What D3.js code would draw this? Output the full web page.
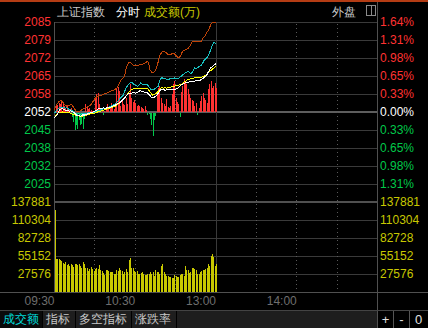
<!DOCTYPE html>
<html><head><meta charset="utf-8">
<script src="https://cdn.jsdelivr.net/npm/d3@7"></script>
<style>
html,body{margin:0;padding:0;background:#000;}
svg{display:block;}
text{font-family:"Liberation Sans",Arial,sans-serif;}
.cjk{font-family:"Noto Sans CJK SC","Liberation Sans",sans-serif;}
</style></head><body>
<svg id="chart" width="428" height="328"></svg>
<script>
// ---- minute data, 09:30 .. 11:30 (121 points) ----
const indexLine = [
2049.6,2050.2,2050.8,2051.9,2052.7,2052.9,2053.0,2052.8,2052.5,2052.3,
2052.4,2052.1,2052.2,2051.9,2051.8,2051.3,2050.8,2050.5,2050.6,2050.2,
2050.4,2050.8,2050.6,2050.9,2050.8,2051.2,2051.4,2051.5,2051.7,2051.9,
2052.1,2052.3,2052.8,2053.0,2053.2,2053.1,2053.3,2053.3,2053.1,2053.4,
2053.6,2053.5,2053.7,2054.0,2054.1,2054.3,2054.6,2054.9,2055.2,2055.5,
2056.0,2056.4,2057.0,2057.6,2058.1,2058.6,2058.9,2058.7,2058.9,2059.2,
2058.8,2058.9,2059.3,2059.6,2059.7,2059.4,2059.5,2059.1,2059.0,2058.9,
2058.4,2057.9,2057.3,2057.0,2057.3,2057.6,2058.0,2058.8,2059.5,2060.1,
2060.0,2060.2,2059.9,2060.0,2060.1,2060.3,2060.0,2060.2,2060.4,2060.1,
2060.3,2060.5,2060.8,2061.3,2061.8,2062.0,2062.3,2062.6,2062.8,2062.7,
2063.0,2063.1,2063.2,2063.0,2063.3,2063.5,2063.4,2063.7,2063.6,2063.8,
2064.2,2064.6,2065.0,2065.5,2066.4,2067.3,2068.2,2068.6,2069.0,2069.4,
2069.9];

const leadLine = [
2050.2,2050.7,2051.2,2051.5,2051.6,2051.7,2051.8,2051.7,2051.6,2051.7,
2051.7,2051.5,2051.3,2051.1,2050.9,2050.8,2050.6,2050.4,2050.3,2050.2,
2050.2,2050.3,2050.5,2050.6,2050.7,2050.8,2051.0,2051.1,2051.2,2051.3,
2051.4,2051.6,2051.8,2052.0,2052.1,2052.3,2052.4,2052.6,2052.7,2052.9,
2053.0,2053.2,2053.4,2053.6,2053.7,2053.9,2054.3,2054.7,2055.0,2055.4,
2055.8,2056.4,2057.0,2057.6,2058.3,2059.0,2059.6,2060.1,2060.3,2060.5,
2060.4,2060.5,2060.6,2060.7,2060.7,2060.6,2060.7,2060.6,2060.5,2060.5,
2060.0,2059.3,2058.6,2058.0,2058.3,2058.6,2058.9,2059.5,2060.1,2060.7,
2060.8,2060.7,2060.8,2060.7,2060.8,2060.9,2061.0,2061.2,2061.3,2061.4,
2061.5,2061.6,2061.8,2061.9,2062.0,2062.4,2062.8,2063.2,2063.5,2063.8,
2064.0,2064.2,2064.3,2064.4,2064.5,2064.5,2064.6,2064.6,2064.7,2064.7,
2065.0,2065.2,2065.4,2065.7,2066.2,2066.7,2067.2,2067.6,2068.0,2068.4,
2068.7];

const cyanLine = [
2051.4,2052.0,2052.7,2053.1,2053.4,2053.6,2053.5,2053.4,2053.2,2053.3,
2053.0,2052.8,2052.7,2052.3,2051.8,2051.4,2051.2,2051.0,2051.1,2050.9,
2051.1,2051.3,2051.2,2051.4,2051.3,2051.4,2051.6,2051.5,2051.7,2051.6,
2051.7,2051.9,2052.2,2052.4,2052.5,2052.7,2052.9,2053.1,2053.2,2053.4,
2053.6,2053.8,2054.0,2054.3,2054.5,2054.8,2055.3,2055.8,2056.4,2057.0,
2057.5,2058.0,2059.2,2060.7,2061.4,2062.0,2062.6,2063.0,2062.6,2062.1,
2061.8,2061.5,2061.4,2062.0,2062.6,2062.3,2062.0,2062.0,2062.1,2061.9,
2061.3,2060.6,2060.1,2060.1,2060.2,2060.6,2061.0,2061.4,2063.0,2064.4,
2064.5,2064.3,2064.2,2064.0,2063.8,2064.0,2064.2,2064.2,2064.3,2064.5,
2064.3,2064.2,2064.2,2064.6,2065.1,2065.5,2065.9,2066.3,2066.6,2066.9,
2066.6,2066.3,2066.3,2067.2,2068.2,2068.1,2068.2,2068.6,2068.9,2069.2,
2069.9,2070.9,2071.4,2071.9,2072.5,2073.5,2075.0,2076.2,2077.5,2077.5,
2077.4];

const orangeLine = [
2052.7,2053.9,2054.8,2055.5,2055.9,2056.0,2055.6,2054.8,2054.3,2054.0,
2054.2,2054.3,2054.5,2054.4,2053.7,2052.9,2052.2,2051.8,2051.9,2052.2,
2052.5,2052.9,2053.1,2053.3,2053.6,2053.9,2054.2,2054.5,2055.2,2056.1,
2056.8,2057.3,2057.6,2057.8,2057.9,2058.0,2058.3,2058.5,2058.7,2058.9,
2059.1,2059.3,2059.6,2059.8,2060.0,2060.3,2060.5,2061.3,2062.2,2063.2,
2064.1,2064.6,2065.1,2067.4,2069.3,2070.0,2070.4,2069.9,2069.4,2069.2,
2069.0,2069.2,2069.1,2069.3,2069.4,2069.5,2069.7,2070.0,2070.3,2070.6,
2070.0,2067.5,2066.7,2066.3,2066.6,2067.4,2068.5,2070.4,2072.5,2073.5,
2074.1,2074.4,2074.1,2073.8,2073.4,2073.0,2073.2,2073.4,2073.8,2073.5,
2073.0,2072.4,2071.9,2072.3,2073.0,2074.3,2074.6,2074.9,2075.1,2075.3,
2076.0,2076.7,2077.8,2077.9,2078.0,2078.1,2078.1,2078.0,2077.9,2078.0,
2079.1,2079.6,2080.1,2081.3,2082.0,2082.8,2084.3,2085.0,2085.1,2085.2,
2085.3];

// buy/sell strength, points above (+) or below (-) the previous close
const strength = [
0.0,2.2,2.6,3.5,3.1,4.1,3.1,2.2,1.6,2.2,
1.4,1.0,1.6,-1.5,-3.4,-6.3,-4.5,-5.8,-2.7,-4.5,
-4.0,-5.8,-2.1,3.1,2.2,1.0,1.4,0.6,0.4,-0.3,
5.3,6.8,7.2,2.9,1.0,1.6,-0.9,0.4,1.9,3.1,
1.0,2.2,3.5,1.9,1.0,2.6,8.4,9.4,7.8,2.2,
4.7,3.1,2.6,5.3,3.1,6.6,10.5,5.3,3.8,4.5,
3.3,2.2,2.6,2.2,1.9,1.5,1.1,2.2,0.7,-0.9,
-0.4,-2.1,-4.6,-8.6,-2.7,-1.1,6.6,9.0,9.7,5.3,
3.5,3.0,2.2,4.7,1.9,1.6,2.2,6.6,10.3,11.5,
5.3,3.7,3.1,-1.6,7.6,9.7,12.2,10.8,10.3,8.4,
6.6,5.3,4.5,4.1,2.2,3.5,-0.9,1.5,4.1,6.0,
7.2,5.3,4.5,3.5,8.4,10.3,11.5,9.0,9.7,10.9,
9.0];

// turnover per minute (10k yuan)
const turnover = [
125100,51100,51100,51100,49500,47000,44900,43400,45500,41900,
42900,40300,42400,40900,38300,42400,42400,41400,42400,39300,
37300,45500,42400,37300,36300,32200,35700,38300,35200,32200,
35200,37300,35200,40900,33700,31700,29100,26000,34200,33200,
32200,30100,31100,30100,27100,27100,33200,32200,37300,34200,
32200,27100,30600,35200,30600,49500,52600,37300,37300,32200,
31200,32200,27100,27100,29100,31200,27100,26000,26500,27100,
28100,30100,27100,31200,24000,34200,31200,30100,27100,39300,
42400,30100,27100,24000,24000,23000,22500,22000,22000,25500,
24000,23000,23000,25500,28100,28100,25000,39300,33200,34200,
29100,31200,37300,37300,35200,33200,28100,27100,30100,32200,
33200,33200,35200,37300,43400,39300,54600,57700,53600,39300,
43400];

// ---- axis labels ----
const prevClose = 2051.8;
const priceStep = 6.7;
const priceLabels = ["2085","2079","2072","2065","2058","2052","2045","2038","2032","2025"];
const pctLabels = ["1.64%","1.31%","0.98%","0.65%","0.33%","0.00%","0.33%","0.65%","0.98%","1.31%"];
const volLabels = ["137881","110304","82728","55152","27576"];
const timeLabels = ["09:30","10:30","13:00","14:00"];
const timeTicks = [0, 60, 120, 180];
const tabs = ["成交额","指标","多空指标","涨跌率"];

// ---- layout ----
const L = 54, R = 377, TOP = 22, MID = 202, BOT = 292;
const svg = d3.select("#chart");

const x = d3.scaleLinear().domain([0, 240]).range([L, R]);
const y = d3.scaleLinear().domain([prevClose - 5 * priceStep, prevClose + 5 * priceStep]).range([MID, TOP]);
const yv = d3.scaleLinear().domain([0, +volLabels[0]]).range([BOT, MID]);

const RED = "#ff3232", GREEN = "#00c84a", GRID = "#3a3a3a", BORDER = "#505050";
const YEL = "#c8c800";

svg.append("rect").attr("width", 428).attr("height", 328).attr("fill", "#000");
svg.append("rect").attr("x", 0).attr("y", 0).attr("width", 428).attr("height", 2).attr("fill", "#b43c14");

// header
const head = svg.append("g").attr("class", "cjk").attr("font-size", 12);
head.append("text").attr("x", 57).attr("y", 16).attr("fill", "#c8c8c8").text("上证指数");
head.append("text").attr("x", 116).attr("y", 16).attr("fill", "#ffffff").text("分时");
head.append("text").attr("x", 144).attr("y", 16).attr("fill", YEL).text("成交额(万)");
head.append("text").attr("x", 332).attr("y", 16).attr("fill", "#c8c8c8").text("外盘");
svg.append("rect").attr("x", 366.5).attr("y", 5.5).attr("width", 9).attr("height", 10)
  .attr("fill", "none").attr("stroke", "#8a8a8a");
svg.append("line").attr("x1", 371.5).attr("x2", 371.5).attr("y1", 5.5).attr("y2", 15.5).attr("stroke", "#8a8a8a");

// horizontal grid
const priceTicks = d3.range(5, -5, -1).map(k => prevClose + k * priceStep);
const volTicks = volLabels.map(Number);
const hGrid = svg.append("g").attr("shape-rendering", "crispEdges");
priceTicks.forEach((v, i) => {
  const yy = Math.round(y(v));
  const zero = i === 5;
  hGrid.append("line").attr("x1", L).attr("x2", R)
    .attr("y1", zero ? yy : yy + 0.5).attr("y2", zero ? yy : yy + 0.5)
    .attr("stroke", zero ? "#5e5e5e" : GRID).attr("stroke-width", zero ? 2 : 1);
});
volTicks.forEach((v, i) => {
  const yy = Math.round(yv(v));
  hGrid.append("line").attr("x1", L).attr("x2", R)
    .attr("y1", i === 0 ? yy : yy + 0.5).attr("y2", i === 0 ? yy : yy + 0.5)
    .attr("stroke", i === 0 ? BORDER : GRID).attr("stroke-width", i === 0 ? 2 : 1);
});
hGrid.append("line").attr("x1", 0).attr("x2", 428).attr("y1", BOT + 0.5).attr("y2", BOT + 0.5).attr("stroke", BORDER);

// vertical grid
const vGrid = svg.append("g").attr("shape-rendering", "crispEdges");
[30, 60, 90, 150, 180, 210].forEach(m => {
  const xx = Math.round(x(m)) + 0.5;
  vGrid.append("line").attr("x1", xx).attr("x2", xx).attr("y1", TOP + 2).attr("y2", BOT)
    .attr("stroke", "#5a5a5a").attr("stroke-dasharray", "1,3");
});
vGrid.append("line").attr("x1", Math.round(x(120)) + 0.5).attr("x2", Math.round(x(120)) + 0.5)
  .attr("y1", TOP).attr("y2", BOT).attr("stroke", GRID);
vGrid.append("line").attr("x1", L + 0.5).attr("x2", L + 0.5).attr("y1", TOP).attr("y2", BOT).attr("stroke", BORDER);
vGrid.append("line").attr("x1", R + 0.5).attr("x2", R + 0.5).attr("y1", 2).attr("y2", 328).attr("stroke", BORDER);

// turnover bars
svg.append("g").attr("shape-rendering", "crispEdges")
  .selectAll("rect").data(turnover).join("rect")
  .attr("x", (d, i) => Math.floor(x(i)) + 1)
  .attr("width", 1)
  .attr("y", d => yv(d))
  .attr("height", d => BOT - yv(d))
  .attr("fill", YEL);

// strength bars
svg.append("g").attr("shape-rendering", "crispEdges")
  .selectAll("rect").data(strength).join("rect")
  .attr("x", (d, i) => Math.floor(x(i)) + 1)
  .attr("width", 1)
  .attr("y", d => d >= 0 ? y(prevClose + d) : y(prevClose) + 1)
  .attr("height", d => Math.abs(y(prevClose + d) - y(prevClose)))
  .attr("fill", d => d >= 0 ? RED : GREEN);

// lines
const line = d3.line().x((d, i) => x(i) + 0.5).y(d => y(d));
[[orangeLine, "#c04408"], [cyanLine, "#18c0c0"], [leadLine, "#ffff00"], [indexLine, "#ffffff"]]
  .forEach(([data, col]) => {
    svg.append("path").datum(data).attr("d", line).attr("fill", "none")
      .attr("stroke", col).attr("stroke-width", 1).attr("shape-rendering", "crispEdges");
  });

// axes
function styleAxis(g) {
  g.select(".domain").remove();
  g.selectAll(".tick line").remove();
  g.selectAll("text").attr("font-family", "Liberation Sans, Arial, sans-serif").attr("font-size", 12);
}
const tickColor = i => i < 5 ? RED : (i === 5 ? "#ffffff" : GREEN);

svg.append("g").attr("transform", "translate(51,0)")
  .call(d3.axisLeft(y).tickValues(priceTicks).tickFormat((d, i) => priceLabels[i]).tickSize(0).tickPadding(0))
  .call(styleAxis)
  .selectAll("text").attr("fill", (d, i) => tickColor(i));

svg.append("g").attr("transform", "translate(380,0)")
  .call(d3.axisRight(y).tickValues(priceTicks).tickFormat((d, i) => pctLabels[i]).tickSize(0).tickPadding(0))
  .call(styleAxis)
  .selectAll("text").attr("fill", (d, i) => tickColor(i));

svg.append("g").attr("transform", "translate(51,0)")
  .call(d3.axisLeft(yv).tickValues(volTicks).tickFormat((d, i) => volLabels[i]).tickSize(0).tickPadding(0))
  .call(styleAxis)
  .selectAll("text").attr("fill", YEL);

svg.append("g").attr("transform", "translate(380,0)")
  .call(d3.axisRight(yv).tickValues(volTicks).tickFormat((d, i) => volLabels[i]).tickSize(0).tickPadding(0))
  .call(styleAxis)
  .selectAll("text").attr("fill", YEL);

svg.append("g").attr("transform", "translate(0,305)")
  .call(d3.axisBottom(x).tickValues(timeTicks).tickFormat((d, i) => timeLabels[i]).tickSize(0).tickPadding(0))
  .call(styleAxis)
  .selectAll("text").attr("y", 0).attr("dy", 0).attr("text-anchor", "end").attr("fill", "#6e6e6e");

// bottom tab bar
const bar = svg.append("g").attr("shape-rendering", "crispEdges");
bar.append("rect").attr("x", 0).attr("y", 310).attr("width", R).attr("height", 18).attr("fill", "#1e1e1e");
bar.append("rect").attr("x", 0).attr("y", 310).attr("width", 42).attr("height", 18).attr("fill", "#0a0a0a");
bar.append("line").attr("x1", 0).attr("x2", 428).attr("y1", 310.5).attr("y2", 310.5).attr("stroke", "#444");
[42, 75, 131, 176].forEach(xx => bar.append("line").attr("x1", xx + 0.5).attr("x2", xx + 0.5)
  .attr("y1", 311).attr("y2", 328).attr("stroke", "#000"));
const tabX = [3, 46, 79, 135];
svg.append("g").attr("class", "cjk").attr("font-size", 12)
  .selectAll("text").data(tabs).join("text")
  .attr("x", (d, i) => tabX[i]).attr("y", 323)
  .attr("fill", (d, i) => i === 0 ? "#00d8d8" : "#c8c8c8").text(d => d);

// zoom buttons
bar.append("rect").attr("x", R + 1).attr("y", 311).attr("width", 428 - R - 1).attr("height", 17).attr("fill", "#000");
[393, 409].forEach(xx => bar.append("line").attr("x1", xx + 0.5).attr("x2", xx + 0.5)
  .attr("y1", 311).attr("y2", 328).attr("stroke", "#555"));
svg.append("g").attr("font-size", 13).attr("fill", "#e0e0e0").attr("text-anchor", "middle")
  .selectAll("text").data(["+", "-", "0"]).join("text")
  .attr("x", (d, i) => [385.5, 401.5, 418.5][i]).attr("y", 324).text(d => d);
</script>
</body></html>
